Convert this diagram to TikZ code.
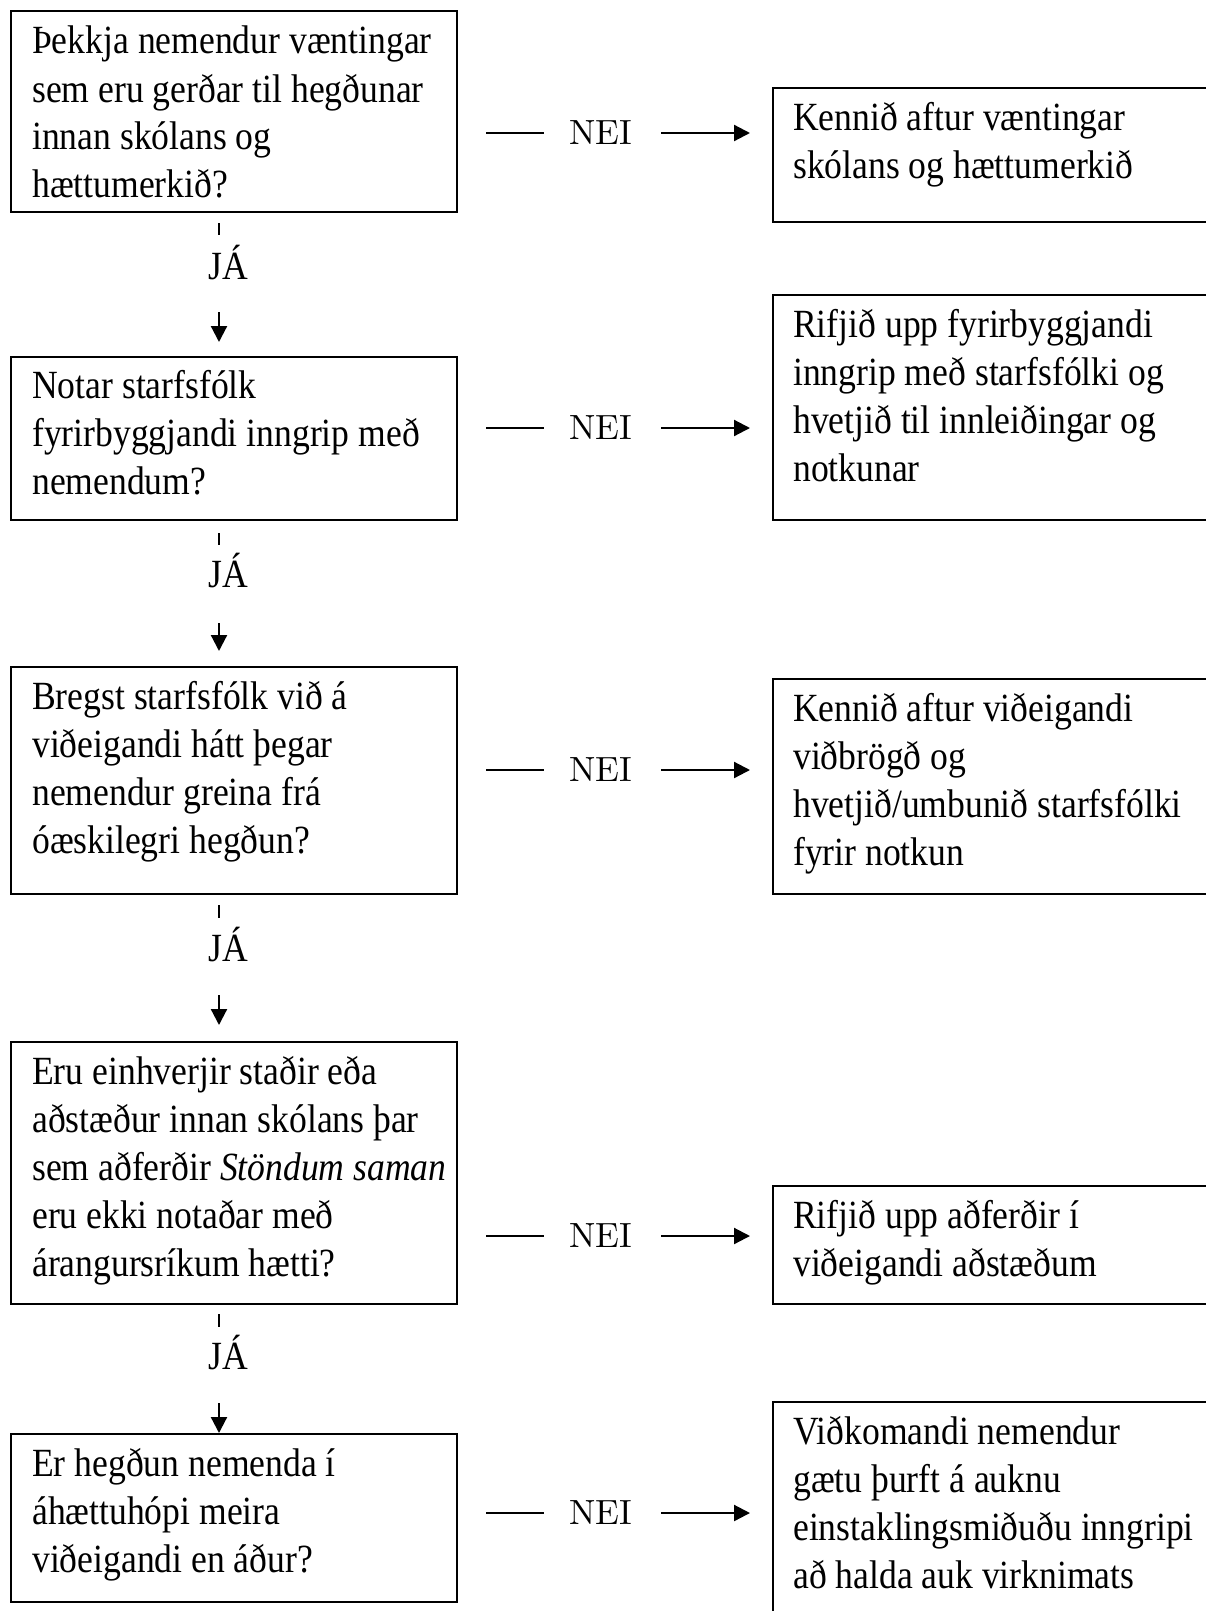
\documentclass[tikz,border=0pt]{standalone}
\usepackage{fontspec}
\setmainfont{Liberation Serif}[FakeStretch=0.89]
\newfontfamily\neifont{lmroman10-regular}[Extension=.otf]
\usetikzlibrary{calc,arrows.meta}
\tikzset{
  box/.style={draw, line width=2pt, rectangle, inner sep=0pt, anchor=north west},
  txt/.style={inner sep=0pt, anchor=base west, font=\fontsize{40}{48}\selectfont},
  ja/.style={inner sep=0pt, anchor=base, font=\fontsize{40}{48}\selectfont},
  nei/.style={inner sep=0pt, font=\neifont\fontsize{35}{42}\selectfont},
  conn/.style={line width=2.2pt},
  dashseg/.style={line width=2.6pt},
  arr/.style={line width=2.2pt, -{Triangle[length=16pt,width=16pt]}}
}
\begin{document}
\begin{tikzpicture}[x=1pt,y=-1pt]
\fill[white] (0,0) rectangle (1206,1611);
\useasboundingbox (0,0) rectangle (1206,1611);
\coordinate (sp) at (219,0);
% left boxes
\node[box, minimum width=446pt, minimum height=201pt] (b1) at (10,10) {};
\node[box, minimum width=446pt, minimum height=163pt] (b2) at (10,356) {};
\node[box, minimum width=446pt, minimum height=227pt] (b3) at (10,666) {};
\node[box, minimum width=446pt, minimum height=262pt] (b4) at (10,1041) {};
\node[box, minimum width=446pt, minimum height=168pt] (b5) at (10,1433) {};
% right boxes
\node[box, minimum width=458pt, minimum height=134pt] (r1) at (772,87) {};
\node[box, minimum width=458pt, minimum height=225pt] (r2) at (772,294) {};
\node[box, minimum width=458pt, minimum height=215pt] (r3) at (772,678) {};
\node[box, minimum width=458pt, minimum height=118pt] (r4) at (772,1185) {};
\node[box, minimum width=458pt, minimum height=240pt] (r5) at (772,1401) {};
% left texts
\node[txt] (t1) at (32,54) {\vtop{\hbox{Þekkja nemendur væntingar}\hbox{sem eru gerðar til hegðunar}\hbox{innan skólans og}\hbox{hættumerkið?}}};
\node[txt] (t2) at (32,398) {\vtop{\hbox{Notar starfsfólk}\hbox{fyrirbyggjandi inngrip með}\hbox{nemendum?}}};
\node[txt] (t3) at (32,709) {\vtop{\hbox{Bregst starfsfólk við á}\hbox{viðeigandi hátt þegar}\hbox{nemendur greina frá}\hbox{óæskilegri hegðun?}}};
\node[txt] (t4) at (32,1084) {\vtop{\hbox{Eru einhverjir staðir eða}\hbox{aðstæður innan skólans þar}\hbox{sem aðferðir \textit{Stöndum saman}}\hbox{eru ekki notaðar með}\hbox{árangursríkum hætti?}}};
\node[txt] (t5) at (32,1476) {\vtop{\hbox{Er hegðun nemenda í}\hbox{áhættuhópi meira}\hbox{viðeigandi en áður?}}};
% right texts
\node[txt] (s1) at (793,130) {\vtop{\hbox{Kennið aftur væntingar}\hbox{skólans og hættumerkið}}};
\node[txt] (s2) at (793,337) {\vtop{\hbox{Rifjið upp fyrirbyggjandi}\hbox{inngrip með starfsfólki og}\hbox{hvetjið til innleiðingar og}\hbox{notkunar}}};
\node[txt] (s3) at (793,721) {\vtop{\hbox{Kennið aftur viðeigandi}\hbox{viðbrögð og}\hbox{hvetjið/umbunið starfsfólki}\hbox{fyrir notkun}}};
\node[txt] (s4) at (793,1228) {\vtop{\hbox{Rifjið upp aðferðir í}\hbox{viðeigandi aðstæðum}}};
\node[txt] (s5) at (793,1444) {\vtop{\hbox{Viðkomandi nemendur}\hbox{gætu þurft á auknu}\hbox{einstaklingsmiðuðu inngripi}\hbox{að halda auk virknimats}}};
% JA labels
\node[ja] (ja1) at (228,279) {JÁ};
\node[ja] (ja2) at (228,587) {JÁ};
\node[ja] (ja3) at (228,961) {JÁ};
\node[ja] (ja4) at (228,1369) {JÁ};
% vertical connectors
\draw[dashseg] ($(sp |- b1.south)+(0,10)$) -- ($(sp |- b1.south)+(0,22)$);
\draw[arr] ($(sp |- b2.north)+(0,-44)$) -- ($(sp |- b2.north)+(0,-14)$);
\draw[dashseg] ($(sp |- b2.south)+(0,12)$) -- ($(sp |- b2.south)+(0,24)$);
\draw[arr] ($(sp |- b3.north)+(0,-43)$) -- ($(sp |- b3.north)+(0,-15)$);
\draw[dashseg] ($(sp |- b3.south)+(0,10)$) -- ($(sp |- b3.south)+(0,23)$);
\draw[arr] ($(sp |- b4.north)+(0,-46)$) -- ($(sp |- b4.north)+(0,-16)$);
\draw[dashseg] ($(sp |- b4.south)+(0,9)$) -- ($(sp |- b4.south)+(0,22)$);
\draw[arr] ($(sp |- b5.north)+(0,-30)$) -- (sp |- b5.north);
% NEI labels and connectors
\node[nei] (n1) at (600.5,133) {NEI};
\node[nei] (n2) at (600.5,428) {NEI};
\node[nei] (n3) at (600.5,770) {NEI};
\node[nei] (n4) at (600.5,1236) {NEI};
\node[nei] (n5) at (600.5,1513) {NEI};
\foreach \i in {1,...,5}{
  \draw[conn] ($(n\i.west)+(-25,0)$) -- ($(n\i.west)+(-83,0)$);
  \draw[arr] ($(n\i.east)+(29,0)$) -- ($(n\i.east -| r\i.west)+(-22,0)$);
}
\end{tikzpicture}
\end{document}
